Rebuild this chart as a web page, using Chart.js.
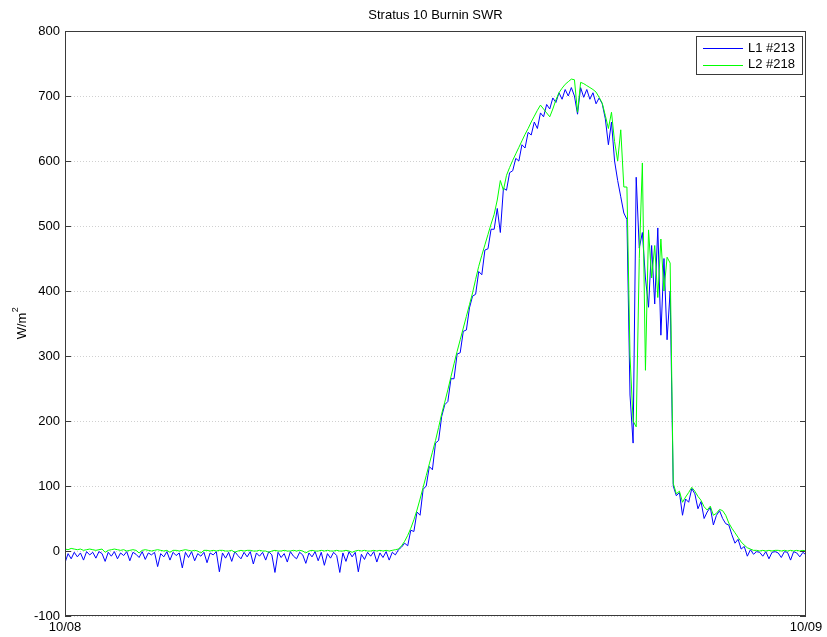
<!DOCTYPE html>
<html lang="en">
<head>
    <meta charset="utf-8">
    <title>Stratus 10 Burnin SWR</title>
    <script src="https://cdn.jsdelivr.net/npm/chart.js"></script>
    <style>
        body {
            margin: 0;
            background: #ffffff;
        }

        .chart-box {
            position: relative;
            width: 827px;
            height: 637px;
        }
    </style>
</head>
<body>
    <div class="chart-box">
        <canvas id="swrChart"></canvas>
    </div>

    <script>
        const chartTitle = 'Stratus 10 Burnin SWR';
        const seriesLabels = ['L1 #213', 'L2 #218'];
        const yTicks = [-100, 0, 100, 200, 300, 400, 500, 600, 700, 800];
        const xTickHours = [0, 24];
        const xTickLabels = ['10/08', '10/09'];
        const sampleStepHours = 0.1;

        // L1 #213, one value every 0.1 h from 10/08 00:00
        const l1Values = [
            -18, -4, -12, -2, -9, -3, -14, -1, -6, -2,
            -11, -1, -4, -16, -2, -8, -1, -12, -3, -7,
            -1, -15, -2, -5, -10, -1, -13, -3, -6, -2,
            -24, -4, -9, -1, -14, -2, -7, -3, -26, -2,
            -10, -1, -15, -4, -8, -2, -18, -3, -6, -1,
            -32, -3, -11, -2, -16, -1, -7, -12, -2, -9,
            -1, -20, -3, -8, -2, -14, -1, -6, -33, -2,
            -10, -4, -17, -1, -8, -12, -2, -6, -19, -3,
            -9, -1, -15, -2, -22, -4, -11, -2, -7, -33,
            -3, -16, -1, -9, -2, -32, -5, -13, -2, -8,
            -1, -17, -3, -10, -1, -14, -2, -6, 2, 6,
            12, 8, 32, 30, 60, 55, 95, 100, 130, 125,
            166, 170, 207, 225, 230, 265, 265, 303, 305, 338,
            340, 374, 392, 395, 430, 425, 463, 465, 495, 495,
            527, 490, 558, 555, 582, 585, 604, 600, 625, 620,
            644, 640, 660, 650, 674, 668, 687, 680, 697, 690,
            705, 695, 710, 700, 713, 700, 672, 713, 698, 710,
            695, 705, 688, 697, 688, 665, 625, 660, 600, 570,
            545, 520, 510, 240, 166, 575, 466, 490, 420, 375,
            470, 380, 497, 332, 450, 325, 400, 100, 85, 90,
            55, 80, 75, 96, 88, 65, 76, 50, 60, 67,
            40, 55, 62, 50, 42, 40, 25, 12, 18, 3,
            7, -8, 2, -5, -1, -2, -8, -1, -12, -2,
            -1, -3, -10, -1, -2, -14, -1, -3, -9, -2,
            -6
        ];

        // L2 #218, same sampling
        const l2Values = [
            3, 2, 4, 3, 2, 3, 1, 2, 3, 2,
            1, 2, 3, -2, 1, 2, 3, 2, 1, 2,
            0, 1, 2, 1, -3, 1, 2, 1, 0, 1,
            2, 1, 0, 1, -2, 1, 1, 0, 1, 2,
            1, 0, 1, 0, -3, 1, 1, 0, 1, 0,
            1, 1, 0, 0, 1, -2, 0, 1, 0, 1,
            1, 0, 0, 1, 0, 0, -2, 0, 1, 0,
            0, 1, 0, 0, 1, 0, 1, 0, -3, 0,
            1, 0, 0, 1, 0, 1, 0, 0, 1, 0,
            0, 1, 0, -2, 0, 1, 0, 1, 0, 0,
            1, 0, 1, 0, 1, 0, 1, 2, 3, 8,
            15, 24, 35, 48, 63, 80, 98, 116, 134, 152,
            170, 190, 211, 229, 248, 268, 288, 307, 325, 343,
            361, 379, 397, 418, 438, 455, 471, 487, 503, 518,
            540, 570, 555, 578, 590, 601, 611, 621, 631, 641,
            650, 660, 669, 678, 686, 680, 674, 668, 680, 694,
            705, 712, 718, 722, 726, 725, 675, 721, 719, 716,
            713, 710, 706, 698, 689, 670, 650, 675, 630, 600,
            648, 560, 560, 300, 200, 191, 450, 597, 278, 494,
            420, 470, 390, 480, 400, 452, 443, 104, 88, 92,
            75, 83, 90, 98, 92, 84, 78, 68, 63, 69,
            55, 58, 64, 62, 55, 43, 35, 28, 21, 14,
            9, 5, 3, 1, 1, 0, 1, 0, 1, 0,
            1, 1, 0, 1, 0, 1, 0, 1, 0, 1,
            0
        ];

        const FONT = "'Liberation Sans', Arial, Helvetica, sans-serif";
        const seriesColors = ['#0000ff', '#00ff00'];

        function toPoints(values) {
            return values.map((v, i) => ({ x: i * sampleStepHours, y: v }));
        }

        // box, inward ticks, title, y label and legend, drawn the MATLAB way
        const framePlugin = {
            id: 'matlabFrame',
            afterDraw(chart) {
                const { ctx, chartArea: a } = chart;
                const yScale = chart.scales.y;
                ctx.save();

                ctx.strokeStyle = '#3a3a3a';
                ctx.lineWidth = 1;
                ctx.strokeRect(a.left + 0.5, a.top + 0.5, a.right - a.left - 1, a.bottom - a.top - 1);

                ctx.beginPath();
                yTicks.forEach(v => {
                    const py = Math.round(yScale.getPixelForValue(v)) + 0.5;
                    ctx.moveTo(a.left, py);
                    ctx.lineTo(a.left + 6, py);
                    ctx.moveTo(a.right, py);
                    ctx.lineTo(a.right - 6, py);
                });
                ctx.stroke();

                ctx.fillStyle = '#000';
                ctx.textBaseline = 'middle';
                ctx.textAlign = 'center';
                ctx.font = '13px ' + FONT;
                ctx.fillText(chartTitle, (a.left + a.right) / 2, 15);

                // y label W/m^2
                ctx.save();
                ctx.translate(22, (a.top + a.bottom) / 2);
                ctx.rotate(-Math.PI / 2);
                ctx.font = '13px ' + FONT;
                const mainW = ctx.measureText('W/m').width;
                ctx.font = '9px ' + FONT;
                const supW = ctx.measureText('2').width;
                const start = -(mainW + supW) / 2;
                ctx.textAlign = 'left';
                ctx.font = '13px ' + FONT;
                ctx.fillText('W/m', start, 0);
                ctx.font = '9px ' + FONT;
                ctx.fillText('2', start + mainW + 0.5, -6);
                ctx.restore();

                // legend
                const box = { left: 696, top: 36, width: 106, height: 38 };
                ctx.fillStyle = '#fff';
                ctx.fillRect(box.left, box.top, box.width, box.height);
                ctx.strokeStyle = '#3a3a3a';
                ctx.strokeRect(box.left + 0.5, box.top + 0.5, box.width, box.height);
                ctx.font = '13px ' + FONT;
                ctx.textAlign = 'left';
                seriesLabels.forEach((label, i) => {
                    const rowY = 48 + i * 16.5;
                    ctx.strokeStyle = seriesColors[i];
                    ctx.beginPath();
                    ctx.moveTo(703, Math.round(rowY) + 0.5);
                    ctx.lineTo(743, Math.round(rowY) + 0.5);
                    ctx.stroke();
                    ctx.fillStyle = '#000';
                    ctx.fillText(label, 748, rowY);
                });

                ctx.restore();
            }
        };

        new Chart(document.getElementById('swrChart'), {
            type: 'line',
            data: {
                datasets: [
                    {
                        label: seriesLabels[0],
                        data: toPoints(l1Values),
                        borderColor: seriesColors[0],
                        borderWidth: 1,
                        pointRadius: 0,
                        tension: 0,
                        order: 2
                    },
                    {
                        label: seriesLabels[1],
                        data: toPoints(l2Values),
                        borderColor: seriesColors[1],
                        borderWidth: 1,
                        pointRadius: 0,
                        tension: 0,
                        order: 1
                    }
                ]
            },
            options: {
                responsive: true,
                maintainAspectRatio: false,
                animation: false,
                layout: {
                    autoPadding: false,
                    padding: { top: 31, right: 21, left: 0, bottom: 0 }
                },
                plugins: {
                    legend: { display: false },
                    title: { display: false },
                    tooltip: { enabled: false }
                },
                scales: {
                    x: {
                        type: 'linear',
                        min: 0,
                        max: 24,
                        afterBuildTicks: s => { s.ticks = xTickHours.map(v => ({ value: v })); },
                        afterFit: s => { s.height = 21; },
                        grid: { display: false, drawTicks: false },
                        border: { display: false },
                        ticks: {
                            padding: 4,
                            maxRotation: 0,
                            autoSkip: false,
                            color: '#000',
                            font: { family: FONT, size: 13 },
                            callback: (v, i) => xTickLabels[i]
                        }
                    },
                    y: {
                        min: -100,
                        max: 800,
                        afterBuildTicks: s => { s.ticks = yTicks.map(v => ({ value: v })); },
                        afterFit: s => { s.width = 65; },
                        grid: { color: '#d0d0d0', lineWidth: 1, drawTicks: false },
                        border: { display: false, dash: [1, 2] },
                        ticks: {
                            padding: 5,
                            color: '#000',
                            font: { family: FONT, size: 13 }
                        }
                    }
                }
            },
            plugins: [framePlugin]
        });
    </script>
</body>
</html>
